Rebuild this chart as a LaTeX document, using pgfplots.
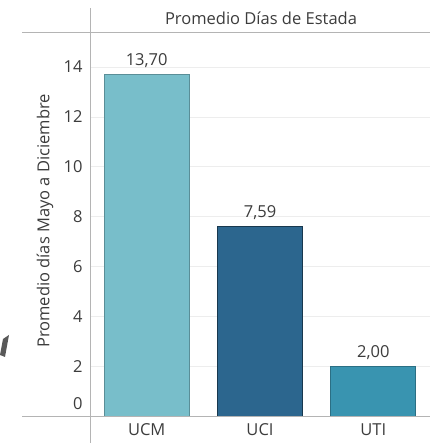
\documentclass[border=0pt]{standalone}
\usepackage{fontspec}
\setmainfont{Open Sans}
\usepackage{pgfplots}
\pgfplotsset{compat=1.18}
\definecolor{ucm}{HTML}{78BECA}
\definecolor{uci}{HTML}{2C668E}
\definecolor{uti}{HTML}{3994B0}
\definecolor{txt}{HTML}{3C3C3C}
\definecolor{rule}{HTML}{B4B4B4}
\begin{document}
\begin{tikzpicture}[x=1pt,y=1pt]
\useasboundingbox (0,0) rectangle (430,443);
\begin{axis}[
  at={(90pt,27pt)},anchor=south west,
  scale only axis,width=340pt,height=388.8pt,
  xmin=-0.5,xmax=2.5,ymin=0,ymax=15.6,
  axis line style={draw=none},
  major tick length=0pt,
  /pgf/number format/assume math mode=true,
  xtick={0,1,2},xticklabels={UCM,UCI,UTI},
  ytick={2,4,...,14},
  extra y ticks={0},
  extra y tick style={yticklabel style={yshift=12pt}},
  ymajorgrids,grid style={draw=black!7,line width=0.8pt},
  tick label style={font=\fontsize{16.5}{18}\selectfont,text=txt},
  yticklabel style={xshift=-4pt},
  xticklabel style={yshift=-4pt},
  ybar,bar width=0.75,bar shift=0pt,
  nodes near coords,point meta=explicit symbolic,
  every node near coord/.append style={font=\fontsize{16.5}{18}\selectfont,text=txt,yshift=3pt},
  clip=false,
]
\addplot[fill=ucm,draw=ucm!75!black,line width=0.8pt] coordinates {(0,13.70) [13,70]};
\addplot[fill=uci,draw=uci!55!black,line width=0.8pt] coordinates {(1,7.59) [7,59]};
\addplot[fill=uti,draw=uti!75!black,line width=0.8pt] coordinates {(2,2.00) [2,00]};
\end{axis}
% frame lines
\draw[rule,line width=0.9pt] (22,411) -- (430,411);
\draw[rule,line width=0.9pt] (22,27) -- (430,27);
\draw[rule,line width=0.9pt] (90,0) -- (90,435);
% header and axis title
\node[font=\fontsize{16.5}{18}\selectfont,text=txt] at (261,425) {Promedio Días de Estada};
\node[font=\fontsize{16.5}{18}\selectfont,text=txt,rotate=90] at (45,222) {Promedio días Mayo a Diciembre};
% stray mark at left edge
\fill[black!65] (0,88) -- (3,104) -- (9,108) -- (5,86) -- cycle;
\end{tikzpicture}
\end{document}
